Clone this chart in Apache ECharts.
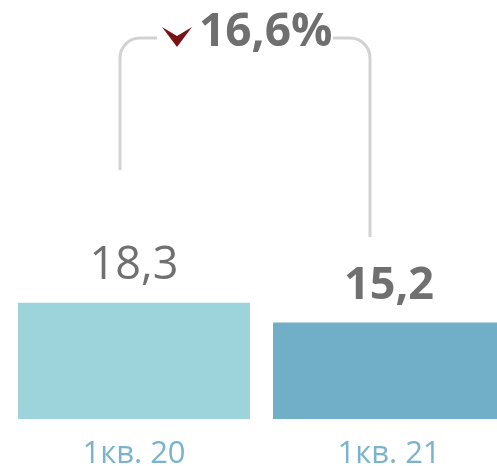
<!DOCTYPE html>
<html>
<head>
<meta charset="utf-8">
<script src="https://cdn.jsdelivr.net/npm/echarts@6/dist/echarts.min.js"></script>
<style>
  html, body { margin: 0; padding: 0; background: #fff; }
  #chart { width: 497px; height: 466px; }
</style>
</head>
<body>
<div id="chart"></div>
<script>
const categories = ['1кв. 20', '1кв. 21'];
const values = [18.3, 15.2];
const valueLabels = ['18,3', '15,2'];
const changeText = '16,6%';

const barColors = ['#9dd4dc', '#71afc8'];
const labelWeights = ['normal', 'bold'];
const font = '"Open Sans", "DejaVu Sans", sans-serif';
const bracketStyle = { fill: null, stroke: '#d2d2d2', lineWidth: 3 };

const chart = echarts.init(document.getElementById('chart'), null, {
  renderer: 'canvas',
  devicePixelRatio: 1,
});

// second bar runs past the right edge, so the grid is wider than the canvas
const option = {
  animation: false,
  grid: { left: 6.5, width: 510, top: 0, bottom: 47, outerBoundsMode: 'none', containLabel: false },
  xAxis: {
    type: 'category',
    data: categories,
    axisLine: { show: false },
    axisTick: { show: false },
    axisLabel: {
      color: '#7ab4cc',
      fontFamily: font,
      fontSize: 31,
      margin: 20,
    },
  },
  yAxis: {
    type: 'value',
    min: 0,
    max: 66,
    show: false,
  },
  series: [
    {
      type: 'bar',
      barWidth: 232,
      data: values.map((v, i) => ({
        value: v,
        itemStyle: { color: barColors[i] },
        label: { fontWeight: labelWeights[i] },
      })),
      label: {
        show: true,
        position: 'top',
        distance: 14,
        color: '#707070',
        fontFamily: font,
        fontSize: 45,
        formatter: (p) => valueLabels[p.dataIndex],
      },
    },
  ],
  graphic: [
    // left bracket
    { type: 'polyline', shape: { points: [[120, 170], [120, 58]] }, style: bracketStyle },
    { type: 'arc', shape: { cx: 140, cy: 58, r: 20, startAngle: Math.PI, endAngle: Math.PI * 1.5, clockwise: true }, style: bracketStyle },
    { type: 'polyline', shape: { points: [[140, 38], [157, 38]] }, style: bracketStyle },
    // right bracket
    { type: 'polyline', shape: { points: [[333, 38], [350, 38]] }, style: bracketStyle },
    { type: 'arc', shape: { cx: 350, cy: 58, r: 20, startAngle: -Math.PI / 2, endAngle: 0, clockwise: true }, style: bracketStyle },
    { type: 'polyline', shape: { points: [[370, 58], [370, 237]] }, style: bracketStyle },
    {
      type: 'polygon',
      shape: { points: [[162, 27], [177, 36], [192, 27], [177, 47]] },
      style: { fill: '#7a1216' },
    },
    {
      type: 'text',
      x: 199,
      y: 33,
      style: {
        text: changeText,
        fill: '#6f6f6f',
        font: 'bold 46px "Open Sans", sans-serif',
        textVerticalAlign: 'middle',
      },
    },
  ],
};

chart.setOption(option);
</script>
</body>
</html>
